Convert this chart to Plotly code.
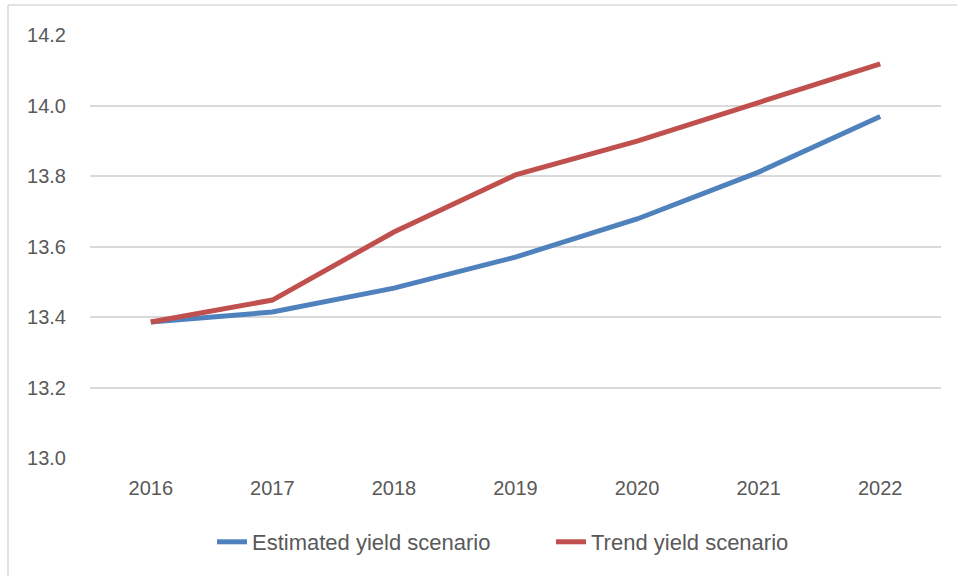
import plotly.graph_objects as go

years = ["2016", "2017", "2018", "2019", "2020", "2021", "2022"]
estimated = [13.386, 13.414, 13.482, 13.570, 13.678, 13.811, 13.969]
trend = [13.386, 13.448, 13.641, 13.803, 13.899, 14.008, 14.118]
y_ticks = [13.0, 13.2, 13.4, 13.6, 13.8, 14.0, 14.2]

FONT = "Liberation Sans, Arial, sans-serif"
fig = go.Figure()
fig.add_trace(go.Scatter(x=years, y=estimated, mode="lines", name="Estimated yield scenario",
                         line=dict(color="#4F81BD", width=5), legend="legend"))
fig.add_trace(go.Scatter(x=years, y=trend, mode="lines", name="Trend yield scenario",
                         line=dict(color="#C0504D", width=5), legend="legend2"))

L, R, T, B = 90, 16, 35, 118
W, H = 957, 576
pw, ph = W - L - R, H - T - B

def px_x(p):
    return (p - L) / pw

def px_y(p):
    return (H - B - p) / ph

leg_common = dict(orientation="h", yanchor="middle", y=px_y(542), xanchor="left",
                  font=dict(size=22, color="#595959"), bgcolor="rgba(0,0,0,0)")

fig.update_layout(
    width=W, height=H,
    margin=dict(l=L, r=R, t=T, b=B, autoexpand=False),
    paper_bgcolor="white", plot_bgcolor="white",
    font=dict(family=FONT, size=20, color="#595959"),
    showlegend=True,
    legend=dict(x=px_x(212), **leg_common),
    legend2=dict(x=px_x(551), **leg_common),
    xaxis=dict(type="category", range=[-0.5, 6.5], showgrid=False, zeroline=False, showline=False,
               automargin=False, ticks="outside", ticklen=12, tickcolor="rgba(0,0,0,0)",
               tickfont=dict(size=20, color="#595959")),
    yaxis=dict(range=[13.0, 14.2], tickvals=y_ticks, ticktext=[f"{v:.1f}" for v in y_ticks],
               showgrid=True, gridcolor="#D9D9D9", gridwidth=1.5, zeroline=False,
               automargin=False, showline=False, ticks="outside", ticklen=19,
               tickcolor="rgba(0,0,0,0)", tickfont=dict(size=20, color="#595959")),
    shapes=[
        dict(type="line", xref="paper", yref="paper",
             x0=px_x(8), x1=px_x(8), y0=px_y(5), y1=-1,
             line=dict(color="#D9D9D9", width=1.5)),
        dict(type="line", xref="paper", yref="paper",
             x0=px_x(8), x1=1.2, y0=px_y(5), y1=px_y(5),
             line=dict(color="#D9D9D9", width=1.5)),
    ],
)

fig.write_html("out.html", config={"displayModeBar": False},
               post_script="document.body.style.margin='0';document.body.style.overflow='hidden';")
